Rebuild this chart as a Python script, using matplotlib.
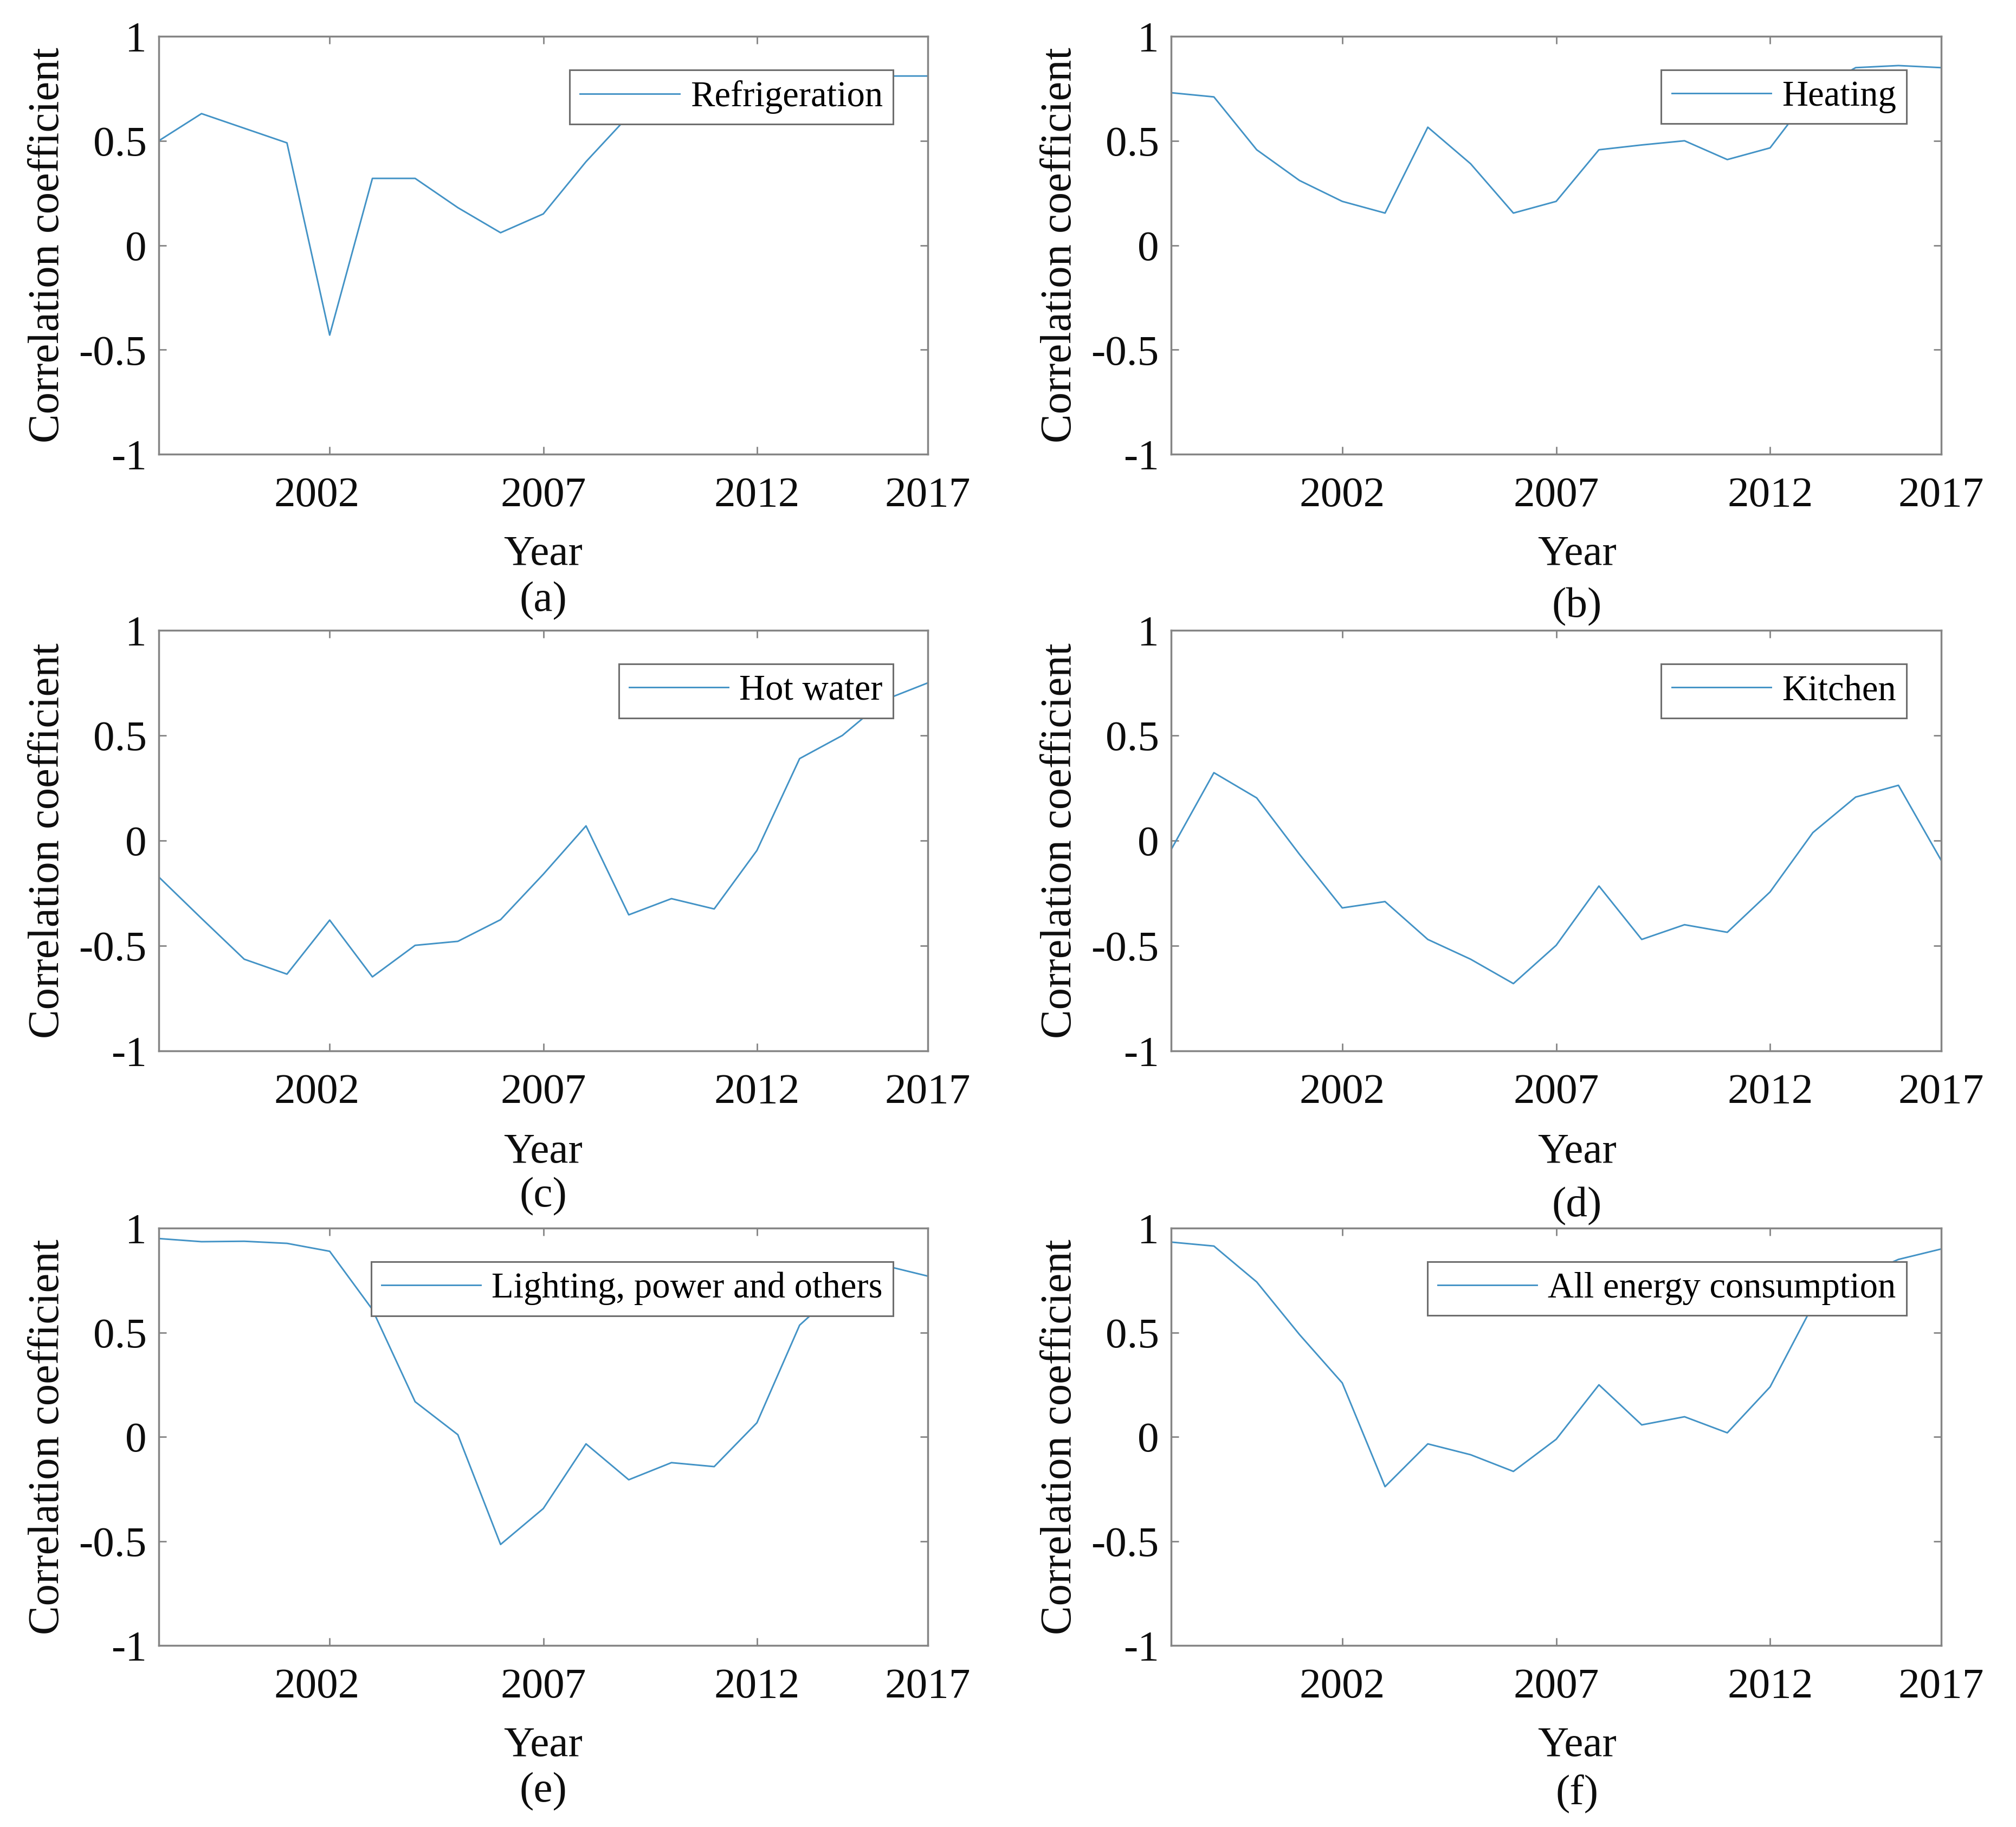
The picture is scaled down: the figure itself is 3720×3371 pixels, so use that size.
import numpy as np
import matplotlib
matplotlib.use("Agg")
import matplotlib.pyplot as plt
from matplotlib.transforms import ScaledTranslation

plt.rcParams['font.family'] = ['Liberation Serif', 'DejaVu Serif']

# ---------------- data ----------------
tick_labels = ['2002', '2007', '2012', '2017']
y_tick_labels = ['-1', '-0.5', '0', '0.5', '1']

refrigeration = [0.50, 0.63, 0.56, 0.49, -0.43, 0.32, 0.32, 0.18, 0.06, 0.15,
                 0.40, 0.62, 0.68, 0.66, 0.595, 0.72, 0.80, 0.81, 0.81]
heating = [0.73, 0.71, 0.457, 0.31, 0.21, 0.154, 0.565, 0.39, 0.154, 0.21,
           0.457, 0.48, 0.50, 0.41, 0.466, 0.735, 0.85, 0.86, 0.85]
hot_water = [-0.173, -0.37, -0.564, -0.635, -0.378, -0.648, -0.498, -0.479, -0.376, -0.16,
             0.07, -0.353, -0.276, -0.325, -0.047, 0.39, 0.50, 0.67, 0.75]
kitchen = [-0.043, 0.323, 0.203, -0.065, -0.32, -0.29, -0.47, -0.564, -0.68, -0.498,
           -0.216, -0.47, -0.40, -0.436, -0.244, 0.038, 0.207, 0.263, -0.094]
lighting = [0.95, 0.935, 0.937, 0.927, 0.889, 0.61, 0.168, 0.01, -0.516, -0.344,
            -0.034, -0.206, -0.124, -0.143, 0.067, 0.535, 0.72, 0.82, 0.77]
all_energy = [0.933, 0.914, 0.742, 0.49, 0.258, -0.239, -0.034, -0.086, -0.166, -0.012,
              0.249, 0.057, 0.096, 0.019, 0.239, 0.63, 0.76, 0.85, 0.90]

series = [refrigeration, heating, hot_water, kitchen, lighting, all_energy]
names = ['Refrigeration', 'Heating', 'Hot water', 'Kitchen',
         'Lighting, power and others', 'All energy consumption']
panel_tags = ['(a)', '(b)', '(c)', '(d)', '(e)', '(f)']

# ---------------- layout ----------------
W, H = 3720, 3371
fig = plt.figure(figsize=(W / 100, H / 100), dpi=100)

col_px = [(293, 1712), (2161, 3582)]
row_px = [(67, 838), (1163, 1939), (2266, 3036)]
tag_y = [[-0.375, -0.389], [-0.370, -0.393], [-0.375, -0.38]]

line_color = '#4393c6'
spine_color = '#858585'

for k in range(6):
    r, c = divmod(k, 2)
    l, rr = col_px[c]
    t, b = row_px[r]
    ax = fig.add_axes([l / W, 1 - b / H, (rr - l) / W, (b - t) / H])
    vals = series[k]
    xs = np.arange(len(vals))
    ax.plot(xs, vals, color=line_color, lw=2.1, label=names[k])
    ax.set_xlim(0, len(vals) - 1)
    ax.set_ylim(-1, 1)
    ax.set_xticks([4, 9, 14, 18])
    ax.set_xticklabels(tick_labels)
    ax.set_yticks([-1, -0.5, 0, 0.5, 1])
    ax.set_yticklabels(y_tick_labels)
    ax.tick_params(direction='in', top=True, right=True, length=10, width=2,
                   color=spine_color, labelcolor='#0d0d0d', labelsize=57)
    ax.tick_params(axis='x', pad=30)
    ax.tick_params(axis='y', pad=16)
    for s in ax.spines.values():
        s.set_color(spine_color)
        s.set_linewidth(2.5)

    if c == 0:
        lab = ax.xaxis.get_major_ticks()[0].label1
        lab.set_transform(lab.get_transform() +
                          ScaledTranslation(-0.24, 0, fig.dpi_scale_trans))

    ax.set_ylabel('Correlation coefficient', fontsize=58, color='#0d0d0d')
    ax.yaxis.label.set_va('center')
    ax.yaxis.set_label_coords(-0.144, 0.5)

    xc = 0.5 if c == 0 else 0.527
    ax.set_xlabel('Year', fontsize=57, color='#0d0d0d')
    ax.xaxis.label.set_va('baseline')
    ax.xaxis.set_label_coords(xc, -0.265)

    ax.text(xc, tag_y[r][c], panel_tags[k], transform=ax.transAxes,
            ha='center', va='baseline', fontsize=57, color='#0d0d0d')

    leg = ax.legend(loc='upper right', bbox_to_anchor=(0.955, 0.92),
                    borderaxespad=0, fontsize=48, fancybox=False,
                    borderpad=0.29, handlelength=2.75, handletextpad=0.3,
                    framealpha=1)
    frame = leg.get_frame()
    frame.set_edgecolor('#6e6e6e')
    frame.set_linewidth(2.2)
    for h in leg.get_lines():
        h.set_linewidth(2.1)

fig.savefig('out.png', dpi=100, facecolor='white')
